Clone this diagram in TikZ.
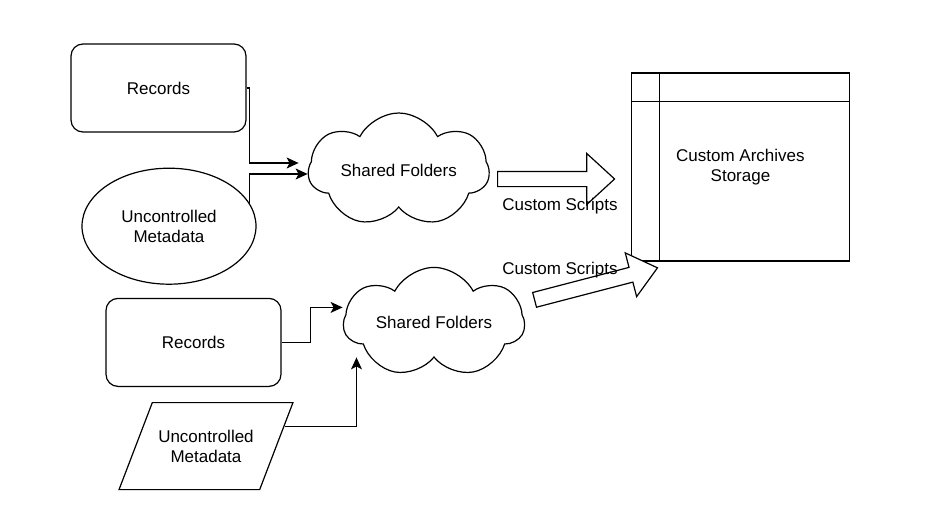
\documentclass[tikz,border=0pt]{standalone}
\usepackage{fontspec}
\setmainfont{Liberation Sans}
\usetikzlibrary{arrows.meta,positioning,shapes.geometric,shapes.symbols,shapes.arrows}

\begin{document}
\begin{tikzpicture}[
  x=1pt, y=-1pt,
  font={\fontsize{17}{20}\selectfont},
  line width=1.2pt,
  recbox/.style={draw, rounded corners=12pt, align=center, minimum width=175pt, minimum height=88pt, fill=white},
  metaell/.style={draw, ellipse, align=center, minimum width=174pt, minimum height=116pt, fill=white},
  metapar/.style={draw, trapezium, trapezium left angle=69, trapezium right angle=111, trapezium stretches=true, inner ysep=25pt, align=center, minimum width=174pt, minimum height=87pt, fill=white},
  cloudbox/.style={draw, cloud, cloud puffs=7, cloud puff arc=125, minimum width=181pt, minimum height=114pt, inner sep=0pt, fill=white},
  store/.style={draw, rectangle, align=center, minimum width=218pt, minimum height=188pt, fill=white},
  blockarr/.style={draw, single arrow, anchor=tail, inner xsep=0pt, inner ysep=7pt, single arrow head indent=0pt, fill=white},
  link/.style={-{Stealth[length=12pt,width=11pt,inset=3pt]}},
  note/.style={inner sep=0pt}
]
\fill[white] (0,0) rectangle (932,527);
\useasboundingbox (0,0) rectangle (932,527);

% upper group
\node[recbox] (rec1) at (158.5,88) {Records};
\node[metaell, below=35pt of rec1, xshift=10.5pt] (meta1) {Uncontrolled\\Metadata};
\node[cloudbox, right=61pt of rec1, yshift=-82pt, label=center:Shared Folders] (share1) {};
\node[store, right=141pt of share1, yshift=3pt] (arch) {Custom Archives\\Storage};
\draw ([xshift=29pt]arch.north west) -- ([xshift=29pt]arch.south west);
\draw ([yshift=-29pt]arch.north west) -- ([yshift=-29pt]arch.north east);

\draw[link] (rec1.east) -- ++(3,0) |- ([shift={(-9pt,7pt)}]share1.west);
\draw[link] (meta1.16) |- ([yshift=-4pt]share1.west);

\node[blockarr, minimum height=117pt, single arrow head extend=18pt, single arrow tip angle=85] (push1) at (497,179) {};
\node[note] (scr1) at (560,206) {Custom Scripts};

% lower group
\node[recbox, below=13pt of meta1, xshift=24.5pt] (rec2) {Records};
\node[metapar, below=15pt of rec2, xshift=12.5pt] (meta2) {Uncontrolled\\Metadata};
\node[cloudbox, right=61pt of rec2, yshift=20pt, minimum height=110pt, label=center:Shared Folders] (share2) {};

\draw[link] (rec2.east) -- ++(29,0) |- ([yshift=15pt]share2.west);
\draw[link] ([shift={(7.6pt,19.5pt)}]meta2.east) -| ([shift={(-77.5pt,-35pt)}]share2.center);

\node[blockarr, minimum height=127pt, single arrow head extend=15pt, single arrow tip angle=79, rotate=14.6] (push2) at (534,300) {};
\node[note] (scr2) at (560,270) {Custom Scripts};

\end{tikzpicture}
\end{document}
